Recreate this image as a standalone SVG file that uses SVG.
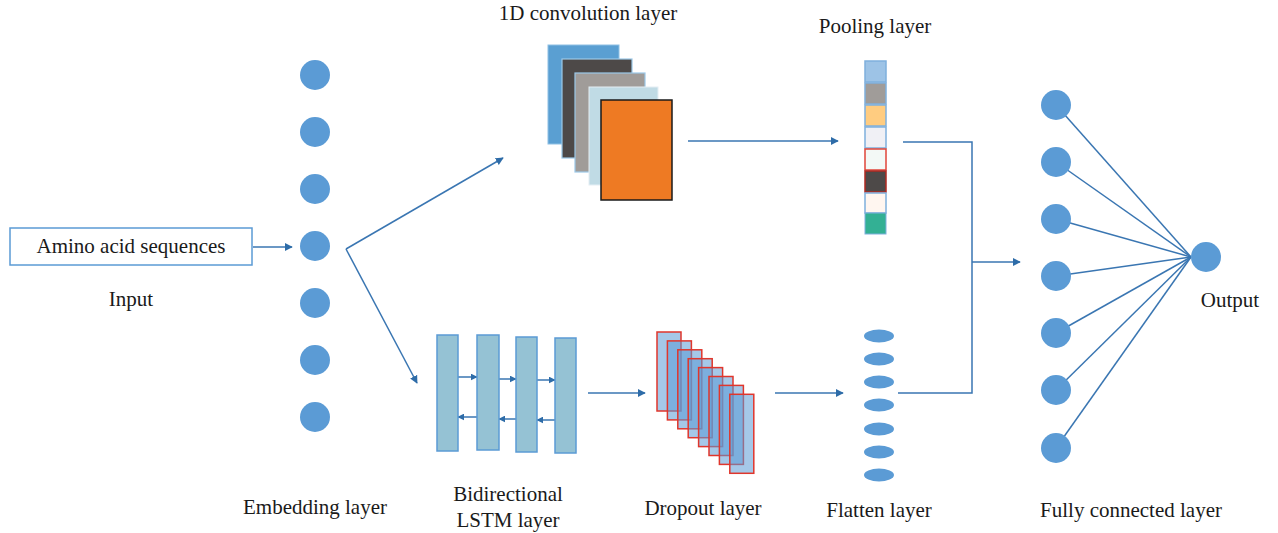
<svg xmlns="http://www.w3.org/2000/svg" width="1278" height="533" viewBox="0 0 1278 533">
<defs>
<style>
text{font-family:"Liberation Serif","Times New Roman",serif;font-size:21px;fill:#1a1a1a;text-anchor:middle}
.dot{fill:#5B9BD5}
.ln{stroke:#3A76B2;stroke-width:1.5;fill:none}
.lstm{fill:#95C2D4;stroke:#5B9BD5;stroke-width:1.5}
.drop{fill:#5B9BD5;fill-opacity:0.55;stroke:#E0362C;stroke-width:1.5}
.cell{stroke:#7FB0DD;stroke-width:1.5}
</style>
<marker id="ah" viewBox="0 0 10 10" refX="9" refY="5" markerWidth="8" markerHeight="8" markerUnits="userSpaceOnUse" orient="auto">
<path d="M0,0 L10,5 L0,10 z" fill="#2E6CA8"/>
</marker>
<marker id="ahs" viewBox="0 0 10 10" refX="9" refY="5" markerWidth="7" markerHeight="7" markerUnits="userSpaceOnUse" orient="auto">
<path d="M0,0 L10,5 L0,10 z" fill="#2E6CA8"/>
</marker>
</defs>
<rect width="1278" height="533" fill="#ffffff"/>

<g id="connectors">
<line class="ln" x1="253" y1="247" x2="292" y2="247" marker-end="url(#ah)"/>
<path class="ln" d="M346,249 L503,158" marker-end="url(#ah)"/>
<path class="ln" d="M346,249 L417,383" marker-end="url(#ah)"/>
<line class="ln" x1="688" y1="141" x2="838" y2="141" marker-end="url(#ah)"/>
<line class="ln" x1="588" y1="393" x2="645" y2="393" marker-end="url(#ah)"/>
<line class="ln" x1="775" y1="393" x2="843" y2="393" marker-end="url(#ah)"/>
<polyline class="ln" points="903,142 972,142 972,393 898,393"/>
<line class="ln" x1="972" y1="262" x2="1020" y2="262" marker-end="url(#ah)"/>
<line class="ln" x1="458" y1="377" x2="477" y2="377" marker-end="url(#ahs)"/>
<line class="ln" x1="499" y1="379" x2="516" y2="379" marker-end="url(#ahs)"/>
<line class="ln" x1="537" y1="380" x2="555" y2="380" marker-end="url(#ahs)"/>
<line class="ln" x1="477" y1="417" x2="458" y2="417" marker-end="url(#ahs)"/>
<line class="ln" x1="516" y1="419" x2="499" y2="419" marker-end="url(#ahs)"/>
<line class="ln" x1="555" y1="420" x2="537" y2="420" marker-end="url(#ahs)"/>
<g class="ln">
<line x1="1056" y1="105" x2="1191" y2="257"/>
<line x1="1056" y1="162" x2="1191" y2="257"/>
<line x1="1056" y1="219" x2="1191" y2="257"/>
<line x1="1056" y1="276" x2="1191" y2="257"/>
<line x1="1056" y1="333" x2="1191" y2="257"/>
<line x1="1056" y1="390" x2="1191" y2="257"/>
<line x1="1056" y1="448" x2="1191" y2="257"/>
</g>
</g>

<g id="input">
<rect x="10" y="228" width="242" height="37" fill="#ffffff" stroke="#5B9BD5" stroke-width="1.5"/>
<text x="131" y="253">Amino acid sequences</text>
<text x="131" y="306">Input</text>
</g>

<g id="embedding">
<circle class="dot" cx="315" cy="75" r="15"/>
<circle class="dot" cx="315" cy="132" r="15"/>
<circle class="dot" cx="315" cy="189" r="15"/>
<circle class="dot" cx="315" cy="246" r="15"/>
<circle class="dot" cx="315" cy="303" r="15"/>
<circle class="dot" cx="315" cy="360" r="15"/>
<circle class="dot" cx="315" cy="417" r="15"/>
<text x="315" y="514">Embedding layer</text>
</g>

<g id="conv1d">
<rect x="548" y="45" width="71" height="99" fill="#5A9FD2" stroke="#8EC0E4" stroke-width="1"/>
<rect x="562" y="59" width="70" height="99" fill="#4D4948" stroke="#9CC8E8" stroke-width="1.2"/>
<rect x="575" y="73" width="70" height="99" fill="#A09C99" stroke="#9CC8E8" stroke-width="1.2"/>
<rect x="589" y="87" width="69" height="98" fill="#C0DBE5" stroke="#E4EEF4" stroke-width="1"/>
<rect x="601" y="100" width="71" height="100" fill="#EE7A23" stroke="#1a1a1a" stroke-width="1.5"/>
<text x="588" y="20">1D convolution layer</text>
</g>

<g id="pooling">
<rect class="cell" x="865" y="61" width="21" height="21" fill="#9DC3E6"/>
<rect class="cell" x="865" y="83" width="21" height="21" fill="#A09C99"/>
<rect class="cell" x="865" y="105" width="21" height="21" fill="#FFCC80"/>
<rect class="cell" x="865" y="127" width="21" height="21" fill="#F0F0F5"/>
<rect x="865" y="149" width="21" height="21" fill="#F3F9F6" stroke="#E0453A" stroke-width="1.5"/>
<rect x="865" y="171" width="21" height="21" fill="#4D4948" stroke="#B02A22" stroke-width="1.5"/>
<rect class="cell" x="865" y="193" width="21" height="20" fill="#FFF6F0"/>
<rect x="865" y="213" width="21" height="21" fill="#33B094" stroke="#7FB0DD" stroke-width="1"/>
<text x="875" y="33">Pooling layer</text>
</g>

<g id="lstm">
<rect class="lstm" x="437" y="335" width="21" height="116"/>
<rect class="lstm" x="477" y="335" width="22" height="115"/>
<rect class="lstm" x="516" y="337" width="21" height="115"/>
<rect class="lstm" x="555" y="338" width="21" height="115"/>
<text x="508" y="501">Bidirectional</text>
<text x="508" y="527">LSTM layer</text>
</g>

<g id="dropout">
<rect class="drop" x="657" y="332" width="24" height="79"/>
<rect class="drop" x="667.4" y="340.9" width="24" height="79"/>
<rect class="drop" x="677.8" y="349.8" width="24" height="79"/>
<rect class="drop" x="688.2" y="358.7" width="24" height="79"/>
<rect class="drop" x="698.6" y="367.6" width="24" height="79"/>
<rect class="drop" x="709" y="376.5" width="24" height="79"/>
<rect class="drop" x="719.4" y="385.4" width="24" height="79"/>
<rect class="drop" x="729.8" y="394.3" width="24" height="79"/>
<text x="703" y="515">Dropout layer</text>
</g>

<g id="flatten">
<ellipse class="dot" cx="879" cy="336" rx="15" ry="6.5"/>
<ellipse class="dot" cx="879" cy="359" rx="15" ry="6.5"/>
<ellipse class="dot" cx="879" cy="382" rx="15" ry="6.5"/>
<ellipse class="dot" cx="879" cy="405" rx="15" ry="6.5"/>
<ellipse class="dot" cx="879" cy="429" rx="15" ry="6.5"/>
<ellipse class="dot" cx="879" cy="452" rx="15" ry="6.5"/>
<ellipse class="dot" cx="879" cy="475" rx="15" ry="6.5"/>
<text x="879" y="517">Flatten layer</text>
</g>

<g id="fully-connected">
<circle class="dot" cx="1056" cy="105" r="15"/>
<circle class="dot" cx="1056" cy="162" r="15"/>
<circle class="dot" cx="1056" cy="219" r="15"/>
<circle class="dot" cx="1056" cy="276" r="15"/>
<circle class="dot" cx="1056" cy="333" r="15"/>
<circle class="dot" cx="1056" cy="390" r="15"/>
<circle class="dot" cx="1056" cy="448" r="15"/>
<text x="1131" y="517">Fully connected layer</text>
</g>

<g id="output">
<circle class="dot" cx="1206" cy="257" r="15"/>
<text x="1230" y="307">Output</text>
</g>
</svg>
